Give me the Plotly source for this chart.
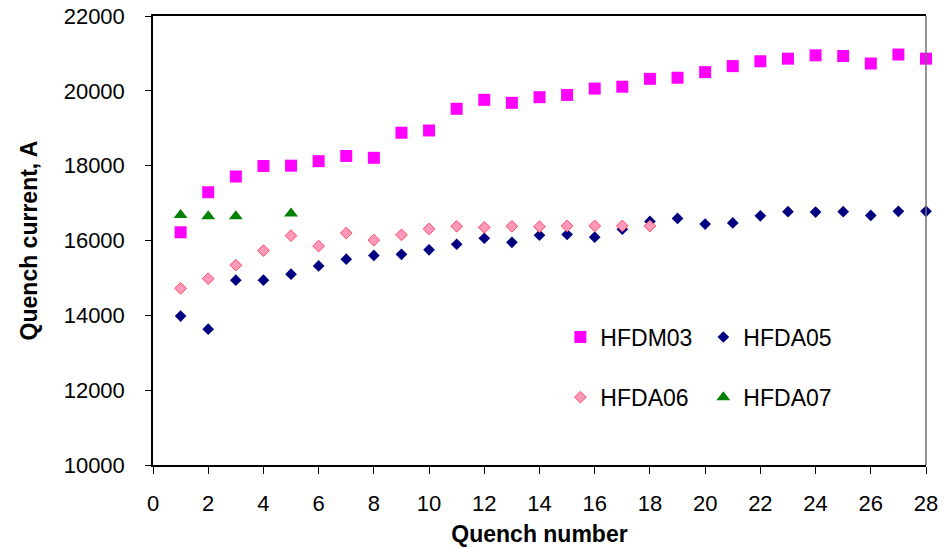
import plotly.graph_objects as go

quench_28 = list(range(1, 29))
hfdm03 = [16220, 17290, 17710, 17990, 18000, 18120, 18260, 18210, 18880, 18940,
          19520, 19760, 19680, 19830, 19890, 20060, 20110, 20320, 20350, 20500,
          20660, 20790, 20860, 20950, 20930, 20730, 20970, 20860]
hfda05 = [13980, 13630, 14940, 14940, 15100, 15320, 15500, 15600, 15630, 15750,
          15900, 16060, 15950, 16140, 16160, 16090, 16300, 16510, 16590, 16440,
          16470, 16660, 16770, 16760, 16770, 16670, 16780, 16780]
quench_18 = list(range(1, 19))
hfda06 = [14720, 14980, 15340, 15730, 16130, 15850, 16200, 16010, 16150, 16310,
          16380, 16350, 16380, 16370, 16390, 16390, 16390, 16385]
quench_07 = [1, 2, 3, 5]
hfda07 = [16680, 16650, 16650, 16720]

FONT = "Liberation Sans, Arial, sans-serif"

fig = go.Figure()
fig.add_trace(go.Scatter(x=quench_28, y=hfdm03, mode="markers", name="HFDM03",
                         marker=dict(symbol="square", size=12, color="#FF00FF"),
                         cliponaxis=False, legend="legend"))
fig.add_trace(go.Scatter(x=quench_28, y=hfda05, mode="markers", name="HFDA05",
                         marker=dict(symbol="diamond", size=9, color="#000080"),
                         cliponaxis=False, legend="legend"))
fig.add_trace(go.Scatter(x=quench_18, y=hfda06, mode="markers", name="HFDA06",
                         marker=dict(symbol="diamond", size=9, color="#FF99BB",
                                     line=dict(color="#FF4D5E", width=1)),
                         cliponaxis=False, legend="legend2"))
fig.add_trace(go.Scatter(x=quench_07, y=hfda07, mode="markers", name="HFDA07",
                         marker=dict(symbol="triangle-up", size=12, color="#008000"),
                         cliponaxis=False, legend="legend2"))

fig.update_layout(
    width=945, height=547,
    margin=dict(l=153, r=19, t=16, b=82),
    plot_bgcolor="white", paper_bgcolor="white",
    font=dict(family=FONT, color="black", size=22),
    showlegend=True,
    legend=dict(orientation="h", x=0.527, y=0.285, xanchor="left", yanchor="middle",
                bgcolor="rgba(0,0,0,0)", font=dict(size=23, family=FONT),
                entrywidth=98, entrywidthmode="pixels", traceorder="normal"),
    legend2=dict(orientation="h", x=0.527, y=0.151, xanchor="left", yanchor="middle",
                 bgcolor="rgba(0,0,0,0)", font=dict(size=23, family=FONT),
                 entrywidth=98, entrywidthmode="pixels", traceorder="normal"),
    xaxis=dict(range=[0, 28], dtick=2, tick0=0, showgrid=False, zeroline=False,
               showline=True, linecolor="black", linewidth=1.5, mirror=True,
               ticks="outside", ticklen=7, tickcolor="black", tickwidth=1,
               ticklabelstandoff=11, automargin=False,
               tickfont=dict(size=22, family=FONT),
               title=dict(text="<b>Quench number</b>", font=dict(size=23, family=FONT),
                          standoff=24)),
    yaxis=dict(range=[10000, 22000], dtick=2000, tick0=10000, tickformat="d",
               showgrid=False, automargin=False,
               zeroline=False, showline=True, linecolor="black", linewidth=1.5,
               mirror=False, ticks="outside", ticklen=6, tickcolor="black",
               tickwidth=1, ticklabelstandoff=16,
               tickfont=dict(size=22, family=FONT),
               title=dict(text="<b>Quench current, A</b>", font=dict(size=23, family=FONT),
                          standoff=20)),
    shapes=[dict(type="line", xref="paper", yref="paper", x0=1, x1=1, y0=0, y1=1,
                 line=dict(color="#707070", width=1.5))],
)

fig.write_html("out.html")
